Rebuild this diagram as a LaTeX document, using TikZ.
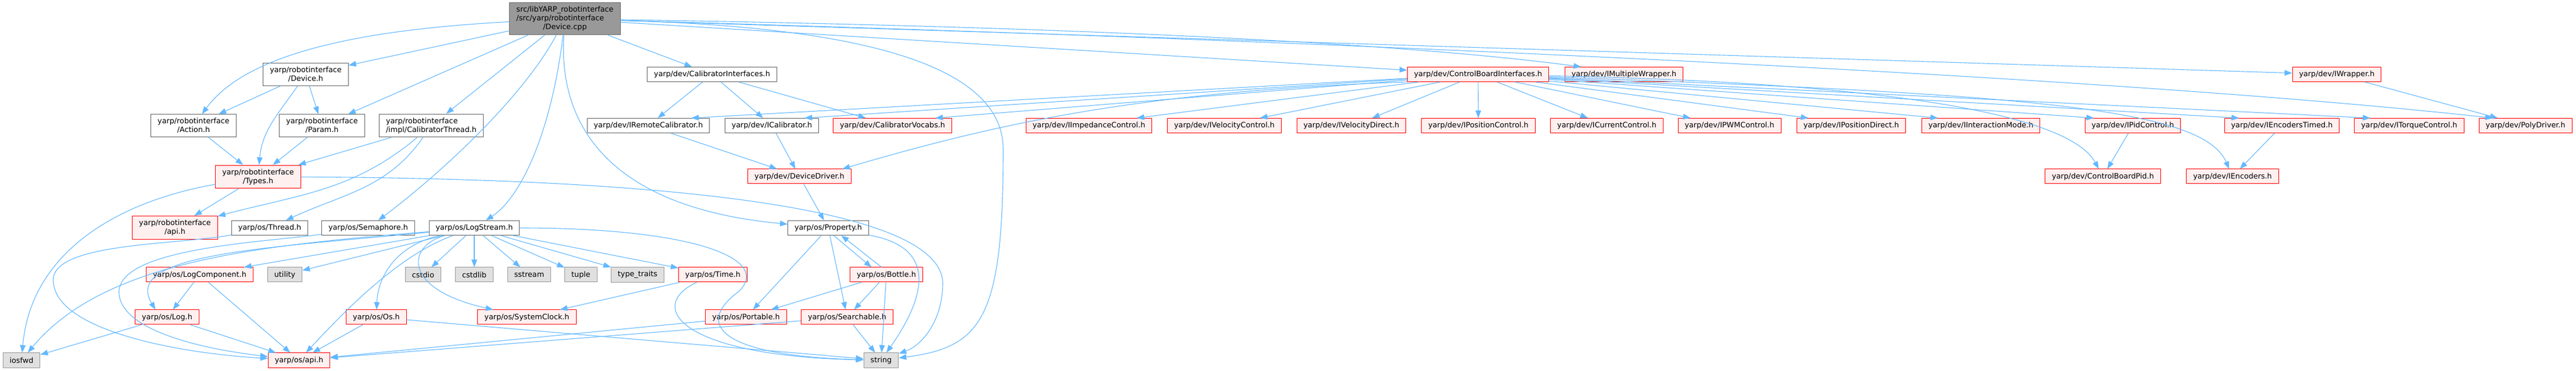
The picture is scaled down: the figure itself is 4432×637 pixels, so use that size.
\documentclass[tikz,border=0pt]{standalone}
\usepackage{fontspec}
\setmainfont{DejaVu Sans}
\usetikzlibrary{arrows.meta}
\definecolor{edgeblue}{HTML}{63B8FF}
\definecolor{boxgrey}{HTML}{666666}
\definecolor{sysgrey}{HTML}{999999}
\definecolor{sysfill}{HTML}{E0E0E0}
\definecolor{extfill}{HTML}{FFF0F0}
\tikzset{
  file/.style={draw=boxgrey, fill=white, line width=1pt, rectangle,
    inner xsep=11.5pt, inner ysep=6.3pt, minimum height=25pt, align=center,
    font=\fontsize{12.75}{15}\selectfont},
  extfile/.style={file, draw=red, fill=extfill},
  sysfile/.style={file, draw=sysgrey, fill=sysfill},
  rootfile/.style={file, fill=sysgrey, inner ysep=5pt},
  dep/.style={draw=edgeblue, line width=1.1pt, -{Triangle[length=13pt,width=9.5pt]}}
}
\begin{document}
\begin{tikzpicture}[x=1pt, y=1pt]
      \useasboundingbox (0,0) rectangle (4432,637);
      \draw
        (972,604.5) node[rootfile] (root){\begin{tabular}{@{}l@{}}src/libYARP\_robotinterface\\/src/yarp/robotinterface\\\multicolumn{1}{@{}c@{}}{/Device.cpp}\end{tabular}}
        (526,509) node[file] (Device){yarp/robotinterface\\/Device.h}
        (333,421) node[file] (Action){yarp/robotinterface\\/Action.h}
        (554,421) node[file] (Param){yarp/robotinterface\\/Param.h}
        (742,421) node[file, align=left] (CalibThread){yarp/robotinterface\\/impl/CalibratorThread.h}
        (444,333) node[extfile] (Types){yarp/robotinterface\\/Types.h}
        (301,245.5) node[extfile] (riapi){yarp/robotinterface\\/api.h}
        (464,245) node[file] (Thread){yarp/os/Thread.h}
        (633.5,245) node[file] (Semaphore){yarp/os/Semaphore.h}
        (816,245) node[file] (LogStream){yarp/os/LogStream.h}
        (1425,245) node[file] (Property){yarp/os/Property.h}
        (343.5,164.5) node[extfile] (LogComponent){yarp/os/LogComponent.h}
        (490,164.5) node[sysfile] (utility){utility}
        (728,164.5) node[sysfile] (cstdio){cstdio}
        (816,164.5) node[sysfile] (cstdlib){cstdlib}
        (910.5,164.5) node[sysfile] (sstream){sstream}
        (999.5,164.5) node[sysfile] (tuple){tuple}
        (1097,164.5) node[sysfile] (typetraits){type\_traits}
        (1226.5,164.5) node[extfile] (Time){yarp/os/Time.h}
        (1525,164.5) node[extfile] (Bottle){yarp/os/Bottle.h}
        (287.5,91.5) node[extfile] (Log){yarp/os/Log.h}
        (647.5,91.5) node[extfile] (Os){yarp/os/Os.h}
        (906.5,91.5) node[extfile] (SystemClock){yarp/os/SystemClock.h}
        (1283.5,91.5) node[extfile] (Portable){yarp/os/Portable.h}
        (1457.5,91.5) node[extfile] (Searchable){yarp/os/Searchable.h}
        (37,17.5) node[sysfile] (iosfwd){iosfwd}
        (514.5,17.5) node[extfile] (osapi){yarp/os/api.h}
        (1516,17.5) node[sysfile] (string){string}
        (1225,509) node[file] (CalibIfaces){yarp/dev/CalibratorInterfaces.h}
        (1115.5,421) node[file] (IRemoteCalibrator){yarp/dev/IRemoteCalibrator.h}
        (1328,421) node[file] (ICalibrator){yarp/dev/ICalibrator.h}
        (1535.5,421) node[extfile] (CalibratorVocabs){yarp/dev/CalibratorVocabs.h}
        (1375.5,333.5) node[extfile] (DeviceDriver){yarp/dev/DeviceDriver.h}
        (2543,509) node[extfile] (ControlBoardIfaces){yarp/dev/ControlBoardInterfaces.h}
        (2794,509) node[extfile] (IMultipleWrapper){yarp/dev/IMultipleWrapper.h}
        (4020.5,509) node[extfile] (IWrapper){yarp/dev/IWrapper.h}
        (1873.5,421) node[extfile] (IImpedanceControl){yarp/dev/IImpedanceControl.h}
        (2106.5,421) node[extfile] (IVelocityControl){yarp/dev/IVelocityControl.h}
        (2325,421) node[extfile] (IVelocityDirect){yarp/dev/IVelocityDirect.h}
        (2543.5,421) node[extfile] (IPositionControl){yarp/dev/IPositionControl.h}
        (2764.5,421) node[extfile] (ICurrentControl){yarp/dev/ICurrentControl.h}
        (2975.5,421) node[extfile] (IPWMControl){yarp/dev/IPWMControl.h}
        (3185,421) node[extfile] (IPositionDirect){yarp/dev/IPositionDirect.h}
        (3408,421) node[extfile] (IInteractionMode){yarp/dev/IInteractionMode.h}
        (3669.5,421) node[extfile] (IPidControl){yarp/dev/IPidControl.h}
        (3926,421) node[extfile] (IEncodersTimed){yarp/dev/IEncodersTimed.h}
        (4145,421) node[extfile] (ITorqueControl){yarp/dev/ITorqueControl.h}
        (4345,421) node[extfile] (PolyDriver){yarp/dev/PolyDriver.h}
        (3618,333.5) node[extfile] (ControlBoardPid){yarp/dev/ControlBoardPid.h}
        (3841,333.5) node[extfile] (IEncoders){yarp/dev/IEncoders.h};
      \begin{scope}[dep]
        \draw (root) .. controls (600,585) and (420,540) .. (Action);
        \draw (root) to (Device);
        \draw (root) to (Param);
        \draw (root) to (CalibThread);
        \draw (root) .. controls (900,470) and (760,340) .. (Semaphore);
        \draw (root) .. controls (950,420) and (900,300) .. (LogStream);
        \draw (root) .. controls (960,420) and (1050,280) .. (Property);
        \draw (root) .. controls (1500,590) and (1726,520) .. (1726,380) .. controls (1726,90) and (1690,40) .. (string);
        \draw (root) to (CalibIfaces);
        \draw (root) to (ControlBoardIfaces);
        \draw (root) .. controls (1800,592) and (2400,565) .. (IMultipleWrapper.170);
        \draw (root) to (IWrapper);
        \draw (root) .. controls (2200,570) and (3600,510) .. (PolyDriver.167);
        \draw (CalibIfaces) to (IRemoteCalibrator);
        \draw (CalibIfaces) to (ICalibrator);
        \draw (CalibIfaces) to (CalibratorVocabs);
        \draw (IRemoteCalibrator) to (DeviceDriver);
        \draw (ICalibrator) to (DeviceDriver);
        \draw (DeviceDriver) to (Property);
        \draw (ControlBoardIfaces) to (IRemoteCalibrator.10);
        \draw (ControlBoardIfaces) to (ICalibrator.13);
        \draw (ControlBoardIfaces) to (CalibratorVocabs.10);
        \draw (ControlBoardIfaces.south west) .. controls (1950,480) and (1700,420) .. (DeviceDriver.10);
        \draw (ControlBoardIfaces) to (IImpedanceControl.9);
        \draw (ControlBoardIfaces) to (IVelocityControl.12);
        \draw (ControlBoardIfaces) to (IVelocityDirect.20);
        \draw (ControlBoardIfaces) to (IPositionControl);
        \draw (ControlBoardIfaces) to (ICurrentControl);
        \draw (ControlBoardIfaces) to (IPWMControl.169);
        \draw (ControlBoardIfaces) to (IPositionDirect.170);
        \draw (ControlBoardIfaces) to (IInteractionMode.170);
        \draw (ControlBoardIfaces) to (IPidControl.169);
        \draw (ControlBoardIfaces) to (IEncodersTimed.170);
        \draw (ControlBoardIfaces) to (ITorqueControl.169);
        \draw (ControlBoardIfaces) .. controls (3250,495) and (3560,440) .. (ControlBoardPid);
        \draw (ControlBoardIfaces) .. controls (3500,475) and (3790,450) .. (IEncoders);
        \draw (IPidControl) to (ControlBoardPid);
        \draw (IEncodersTimed) to (IEncoders);
        \draw (IWrapper) to (PolyDriver);
        \draw (Device) to (Action);
        \draw (Device) to (Param);
        \draw (Device) to[out=-125,in=85] (Types);
        \draw (Action) to (Types);
        \draw (Param) to (Types);
        \draw (CalibThread) to (Types);
        \draw (CalibThread) to[out=-140,in=15] (riapi);
        \draw (CalibThread) to[out=-125,in=25] (Thread);
        \draw (Types) to (riapi);
        \draw (Types) to[out=190,in=85] (iosfwd);
        \draw (Types) .. controls (1150,330) and (1620,280) .. (1622,150) .. controls (1622,90) and (1590,45) .. (string);
        \draw (Thread) .. controls (300,215) and (80,220) .. (92,150) .. controls (100,70) and (300,30) .. (osapi);
        \draw (Semaphore) .. controls (450,220) and (195,210) .. (205,130) .. controls (212,70) and (340,38) .. (osapi);
        \draw (LogStream) .. controls (450,210) and (210,200) .. (Log.147);
        \draw (LogStream) .. controls (450,215) and (180,190) .. (iosfwd);
        \draw (LogStream) to (LogComponent);
        \draw (LogStream) to (utility);
        \draw (LogStream) .. controls (680,215) and (650,160) .. (Os);
        \draw (LogStream) .. controls (690,200) and (600,110) .. (osapi);
        \draw (LogStream) .. controls (700,215) and (690,140) .. (SystemClock);
        \draw (LogStream) to (cstdio);
        \draw (LogStream) to (cstdlib);
        \draw (LogStream) to (sstream);
        \draw (LogStream) to (tuple);
        \draw (LogStream) to (typetraits);
        \draw (LogStream) to (Time);
        \draw (LogStream) .. controls (1200,245) and (1330,190) .. (1270,135) .. controls (1190,75) and (1250,25) .. (string);
        \draw (LogComponent) to (Log);
        \draw (LogComponent) to (osapi);
        \draw (Log) to (iosfwd);
        \draw (Log) to (osapi);
        \draw (Os) to (osapi);
        \draw (Os) to (string);
        \draw (Time) to (SystemClock);
        \draw (Time) .. controls (1110,110) and (1170,25) .. (string);
        \draw (Property) to (Portable);
        \draw (Property) to (Searchable);
        \draw (Property.-54) to (Bottle.153);
        \draw (Bottle.123) to (Property.-30);
        \draw (Property) to[out=-10,in=55,looseness=1.5] (string);
        \draw (Bottle) to (Portable);
        \draw (Bottle) to (Searchable);
        \draw (Bottle) to (string);
        \draw (Portable) to (osapi);
        \draw (Searchable) to (osapi);
        \draw (Searchable) to (string);
      \end{scope}
    \end{tikzpicture}
\end{document}
